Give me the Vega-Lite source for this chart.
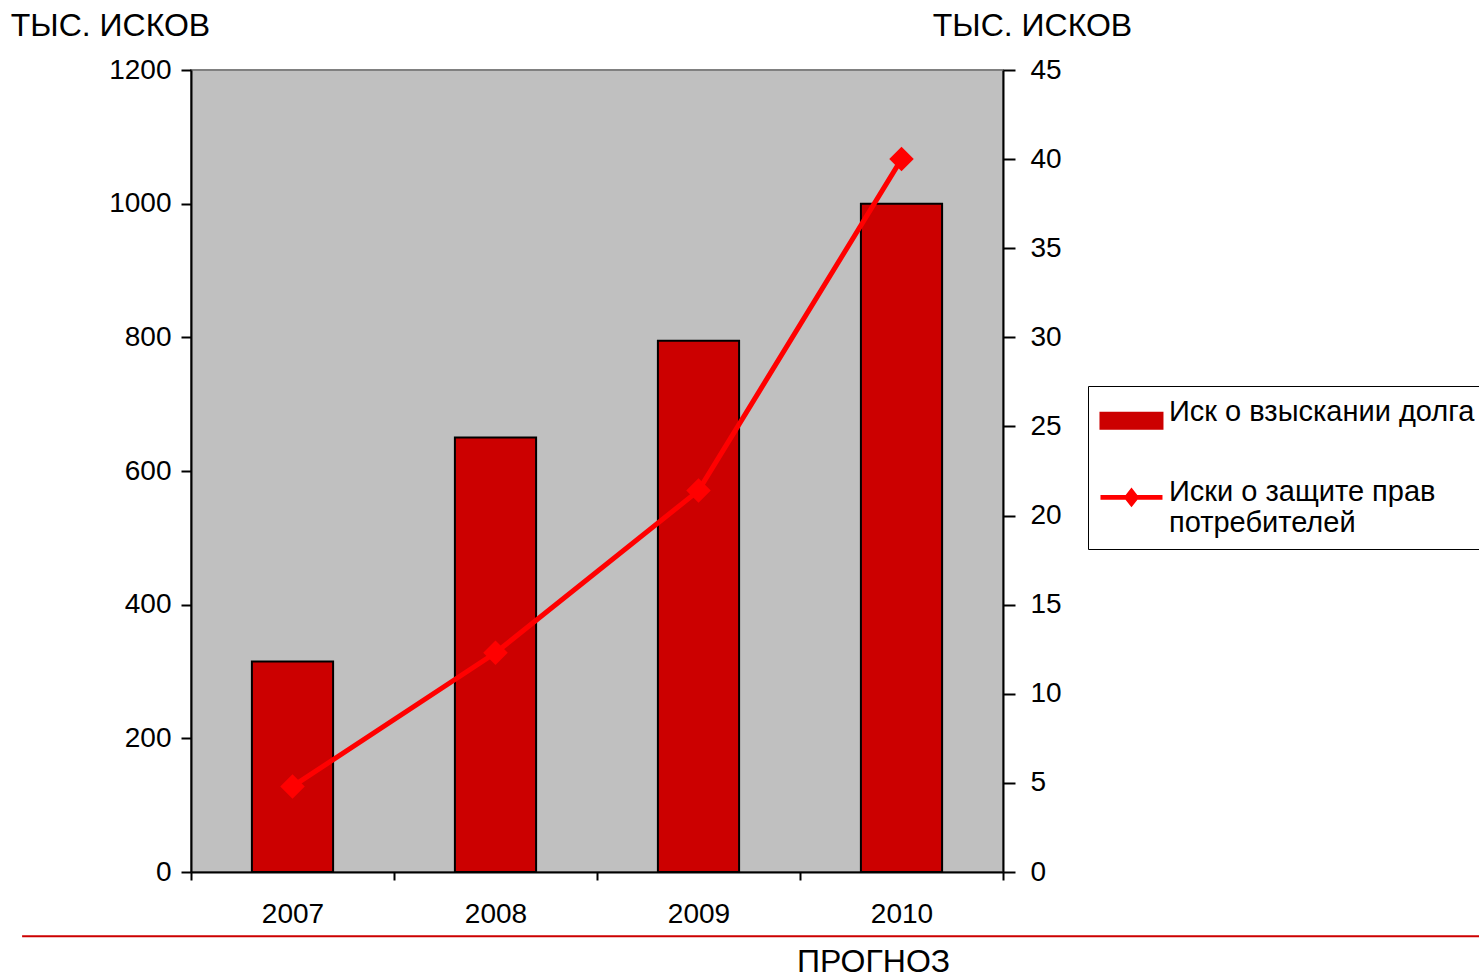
{
  "$schema": "https://vega.github.io/schema/vega-lite/v6.json",
  "autosize": {"type": "none"},
  "padding": {"left": 191, "top": 70, "right": 476, "bottom": 105},
  "width": 812,
  "height": 802,
  "background": "white",
  "config": {
    "font": "Liberation Sans",
    "view": {"fill": "#C0C0C0", "stroke": "#808080", "strokeWidth": 2},
    "axis": {
      "domainColor": "black", "domainWidth": 2, "tickColor": "black", "tickWidth": 2,
      "labelColor": "black", "labelFontSize": 28, "labelFont": "Liberation Sans",
      "titleColor": "black", "titleFontSize": 32, "titleFontWeight": "normal", "titleFont": "Liberation Sans",
      "grid": false
    }
  },
  "datasets": {
    "bars": [
      {"year": "2007", "series": "Иск о взыскании долга", "value": 315},
      {"year": "2008", "series": "Иск о взыскании долга", "value": 650},
      {"year": "2009", "series": "Иск о взыскании долга", "value": 795},
      {"year": "2010", "series": "Иск о взыскании долга", "value": 1000}
    ],
    "line": [
      {"year": "2007", "series": "Иски о защите прав потребителей", "value": 4.8},
      {"year": "2008", "series": "Иски о защите прав потребителей", "value": 12.3},
      {"year": "2009", "series": "Иски о защите прав потребителей", "value": 21.4},
      {"year": "2010", "series": "Иски о защите прав потребителей", "value": 40}
    ]
  },
  "layer": [
    {
      "layer": [
        {
          "data": {"name": "bars"},
          "mark": {"type": "bar", "stroke": "black", "strokeWidth": 2, "width": {"band": 0.4}},
          "encoding": {
            "x": {
              "field": "year", "type": "ordinal",
              "scale": {"paddingInner": 0, "paddingOuter": 0},
              "axis": {
                "labelAngle": 0, "tickBand": "extent", "tickSize": 8, "labelPadding": 20,
                "title": "ПРОГНОЗ", "titleX": 682, "titleY": 99, "titleAnchor": null,
                "titleAlign": "center", "titleBaseline": "alphabetic"
              }
            },
            "y": {
              "field": "value", "type": "quantitative",
              "scale": {"domain": [0, 1200], "nice": false},
              "axis": {
                "orient": "left", "values": [0, 200, 400, 600, 800, 1000, 1200], "format": "d",
                "tickSize": 10, "labelPadding": 10,
                "title": "ТЫС. ИСКОВ", "titleAngle": 0, "titleX": -81, "titleY": -35,
                "titleAlign": "center", "titleBaseline": "alphabetic"
              }
            },
            "color": {
              "field": "series", "type": "nominal",
              "scale": {
                "domain": ["Иск о взыскании долга", "Иски о защите прав потребителей"],
                "range": ["#CC0000", "#FF0000"]
              },
              "legend": {
                "title": null, "orient": "none", "legendX": 897, "legendY": 316,
                "strokeColor": "black", "fillColor": "white", "padding": 11,
                "labelFontSize": 29, "labelFont": "Liberation Sans", "labelColor": "black",
                "labelLimit": 2000, "labelOffset": 41, "symbolSize": 3844, "rowPadding": 44,
                "symbolType": {"expr": "datum.value === 'Иск о взыскании долга' ? 'M-0.42,0.04H1.58V0.56H-0.42Z' : 'M-0.42,0.11H1.58V0.27H-0.42Z M0.58,-0.13L0.83,0.19L0.58,0.51L0.33,0.19Z'"},
                "symbolStrokeColor": {"expr": "datum.value === 'Иск о взыскании долга' ? 'black' : '#FF0000'"},
                "symbolStrokeWidth": {"expr": "datum.value === 'Иск о взыскании долга' ? 2 : 0"},
                "symbolOpacity": 1,
                "labelExpr": "datum.label === 'Иски о защите прав потребителей' ? ['Иски о защите прав', 'потребителей'] : datum.label"
              }
            }
          }
        },
        {
          "data": {"name": "line"},
          "mark": {"type": "line", "strokeWidth": 5, "point": {"shape": "diamond", "size": 600, "filled": true}},
          "encoding": {
            "x": {"field": "year", "type": "ordinal"},
            "y": {
              "field": "value", "type": "quantitative",
              "scale": {"domain": [0, 45], "nice": false},
              "axis": {
                "orient": "right", "values": [0, 5, 10, 15, 20, 25, 30, 35, 40, 45],
                "tickSize": 12, "labelPadding": 15,
                "title": "ТЫС. ИСКОВ", "titleAngle": 0, "titleX": 29, "titleY": -35,
                "titleAlign": "center", "titleBaseline": "alphabetic"
              }
            },
            "color": {"field": "series", "type": "nominal"}
          }
        }
      ],
      "resolve": {"scale": {"y": "independent"}}
    },
    {
      "data": {"values": [{"divider": "ПРОГНОЗ"}]},
      "mark": {"type": "rule", "color": "#CC0000", "strokeWidth": 2},
      "encoding": {
        "x": {"datum": -0.208, "type": "quantitative", "scale": {"domain": [0, 1], "nice": false, "zero": false}, "axis": null},
        "x2": {"datum": 1.7},
        "y": {"datum": -96, "type": "quantitative", "scale": {"domain": [0, 1200], "nice": false}, "axis": null}
      }
    }
  ],
  "resolve": {"scale": {"x": "independent", "y": "independent"}}
}
